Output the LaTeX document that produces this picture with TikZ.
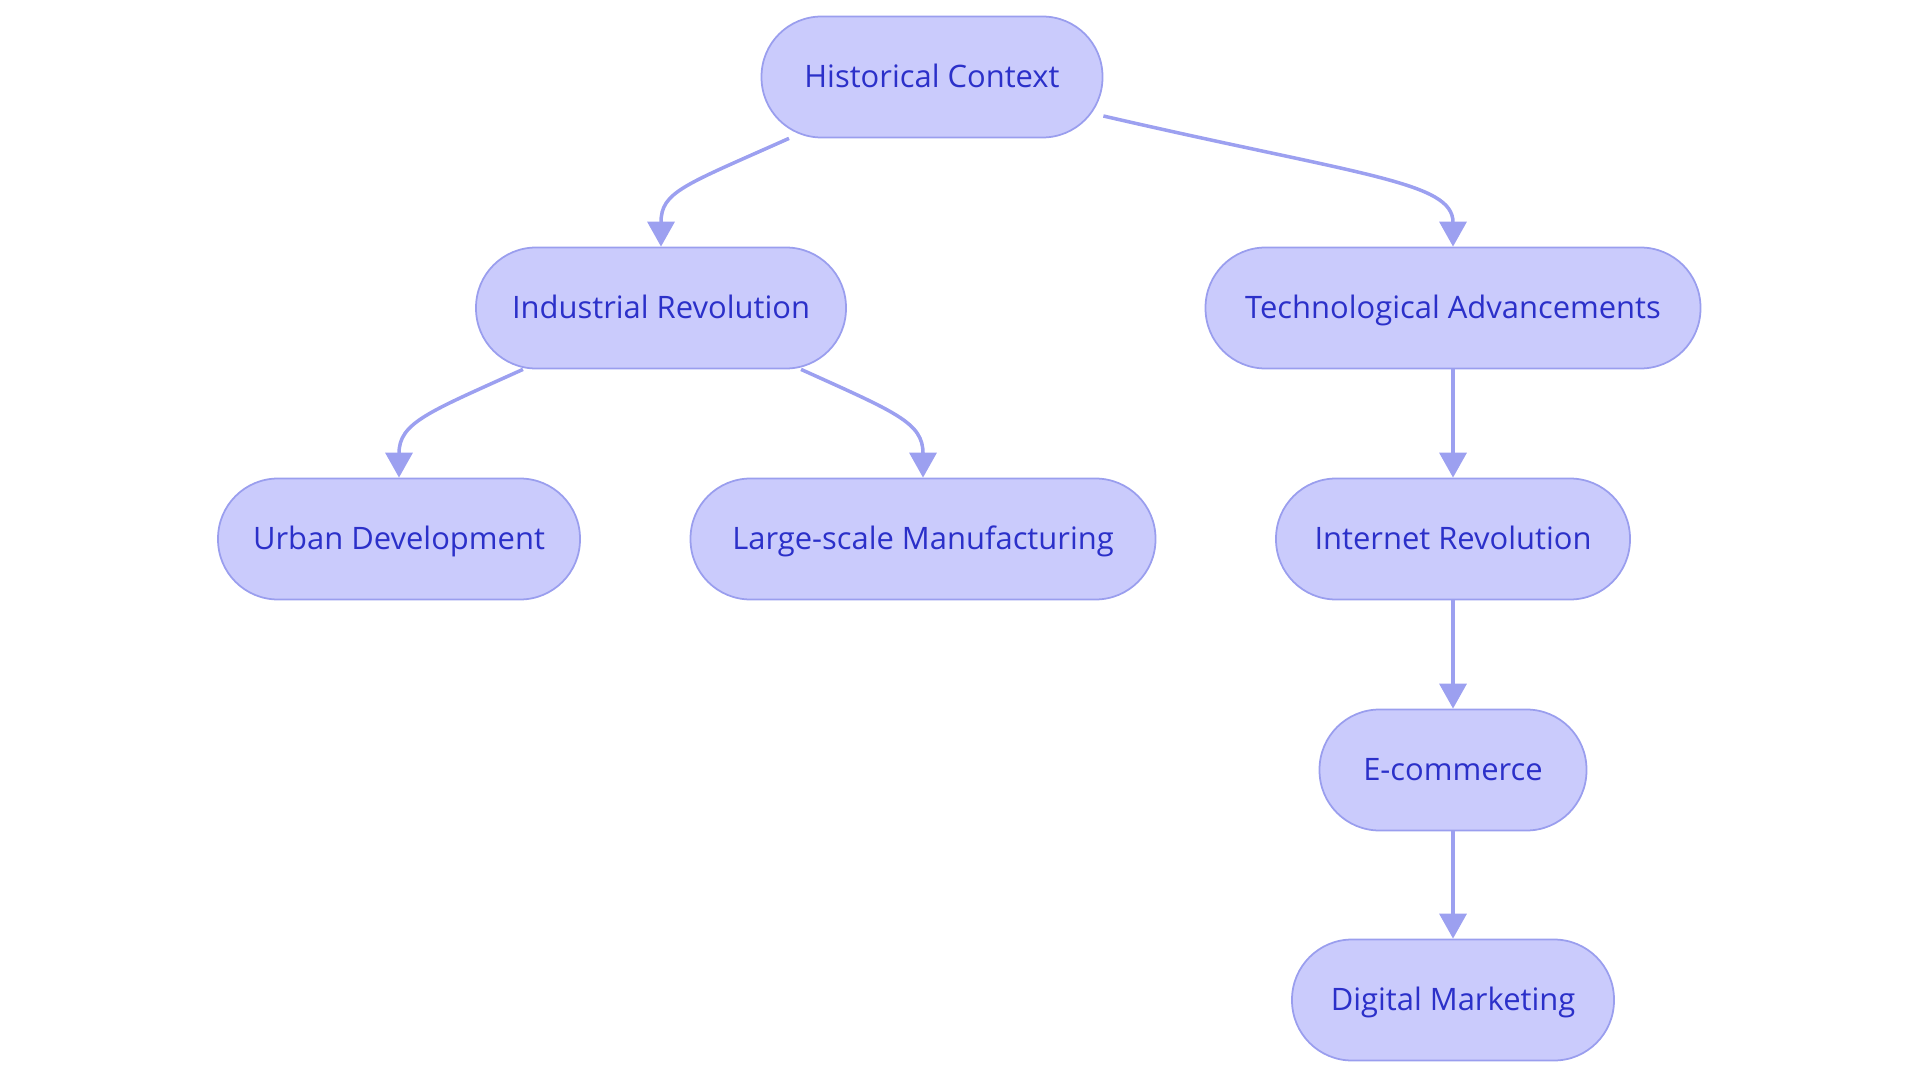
\documentclass[tikz,border=0pt]{standalone}
\usepackage{fontspec}
\setmainfont{Open Sans}
\usetikzlibrary{arrows.meta,calc}
\definecolor{boxfill}{HTML}{CACBFC}
\definecolor{boxline}{HTML}{9A9EEE}
\definecolor{boxtext}{HTML}{2B30C9}
\definecolor{linkline}{HTML}{9CA0F0}
\tikzset{
  topic/.style={draw=boxline, line width=0.5pt, fill=boxfill, text=boxtext,
    rounded corners=0.6cm, minimum height=1.21cm, inner sep=0pt,
    text height=7.3pt, text depth=1.2pt,
    font=\fontsize{8.8}{11}\selectfont},
  link/.style={draw=linkline, line width=1pt,
    -{Triangle[width=0.27cm,length=0.25cm]}}
}
\begin{document}
\begin{tikzpicture}
\useasboundingbox (0,0) rectangle (19.2,-10.83);

\node [topic, minimum width=3.41cm] (hist) at (9.32,-0.77) {Historical Context};
\node [topic, minimum width=3.70cm] (indus) at (6.61,-3.08) {Industrial Revolution};
\node [topic, minimum width=4.95cm] (tech) at (14.53,-3.08) {Technological Advancements};
\node [topic, minimum width=3.62cm] (urban) at (3.99,-5.39) {Urban Development};
\node [topic, minimum width=4.65cm] (manuf) at (9.23,-5.39) {Large-scale Manufacturing};
\node [topic, minimum width=3.54cm] (inet) at (14.53,-5.39) {Internet Revolution};
\node [topic, minimum width=2.67cm] (ecom) at (14.53,-7.70) {E-commerce};
\node [topic, minimum width=3.22cm] (digi) at (14.53,-10.00) {Digital Marketing};

\draw [link] ($(hist.south)+(-1.43,0)$) .. controls +(-1.05,-0.47) and +(0,0.55) .. (indus.north);
\draw [link] ($(hist.east)+(0,-0.39)$) .. controls +(2.6,-0.6) and +(0,0.65) .. (tech.north);
\draw [link] ($(indus.south)+(-1.38,0)$) .. controls +(-0.95,-0.43) and +(0,0.55) .. (urban.north);
\draw [link] ($(indus.south)+(1.40,0)$) .. controls +(0.95,-0.43) and +(0,0.55) .. (manuf.north);
\draw [link] (tech) -- (inet);
\draw [link] (inet) -- (ecom);
\draw [link] (ecom) -- (digi);
\end{tikzpicture}
\end{document}
